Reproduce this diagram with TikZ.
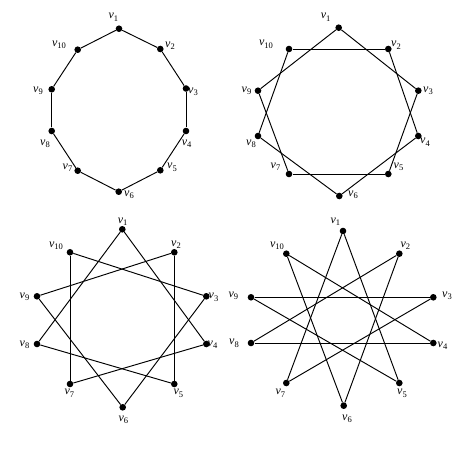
\documentclass[tikz,border=0pt]{standalone}
\usepackage{fontspec}
\setmainfont{Liberation Serif}
\newcommand{\vlab}[1]{\textit{v}\raisebox{-0.4ex}{\fontsize{8.5}{9}\selectfont #1}}
\tikzset{
  dot/.style={circle,fill=black,inner sep=0pt,minimum size=6.6pt},
  lab/.style={inner sep=0pt,font=\fontsize{12}{13}\selectfont},
  edge/.style={line width=0.95pt,black}
}
\begin{document}
\begin{tikzpicture}[x=1pt,y=-1pt]
\useasboundingbox (0,0) rectangle (474,449);
% Panel 1: cycle
\foreach \i/\x/\y/\lx/\ly in {
  1/119/28.7/113.3/17.3, 2/160.3/49/170/46, 3/186/88.5/193/91.7,
  4/186/131/186.7/144, 5/160.3/170.3/172/167.3, 6/118.7/191.7/129/195,
  7/77.7/170.7/67.5/167.7, 8/51.7/131/45/144, 9/51.7/89.3/38/91,
  10/77.7/49.7/59/45}{
  \node[dot] (a\i) at (\x,\y) {};
  \node[lab] (la\i) at (\lx,\ly) {\vlab{\i}};
}
\foreach \i in {1,...,10}{
  \pgfmathtruncatemacro\j{mod(\i,10)+1}
  \draw[edge] (a\i) -- (a\j);
}
% Panel 2: step 2
\foreach \i/\x/\y/\lx/\ly in {
  1/338.7/27.7/325.6/17.3, 2/388.3/49/396/45.3, 3/418.3/90.7/428/91,
  4/418.3/136/425/142.3, 5/388.3/174/398.5/166.7, 6/339.3/196/353/195,
  7/289/174/275.5/166.7, 8/258/136/251/144, 9/258/90.7/246.5/90.7,
  10/289/49/266/44.3}{
  \node[dot] (b\i) at (\x,\y) {};
  \node[lab] (lb\i) at (\lx,\ly) {\vlab{\i}};
}
\foreach \i in {1,...,10}{
  \pgfmathtruncatemacro\j{mod(\i+1,10)+1}
  \draw[edge] (b\i) -- (b\j);
}
% Panel 3: step 3
\foreach \i/\x/\y/\lx/\ly in {
  1/122.3/229.3/122.7/221.7, 2/174.3/252.3/176/245, 3/206.3/296.3/213.5/297.3,
  4/206.3/344/212.5/345, 5/174.3/384/178.3/393.3, 6/122.7/407.3/123.3/420,
  7/70/384/69.3/393.3, 8/37/344/24.5/345, 9/37/296.3/24.5/296.7,
  10/70/252.3/56/246}{
  \node[dot] (c\i) at (\x,\y) {};
  \node[lab] (lc\i) at (\lx,\ly) {\vlab{\i}};
}
\foreach \i in {1,...,10}{
  \pgfmathtruncatemacro\j{mod(\i+2,10)+1}
  \draw[edge] (c\i) -- (c\j);
}
% Panel 4: step 4
\foreach \i/\x/\y/\lx/\ly in {
  1/343/231/335.3/221.7, 2/399.3/253.7/405.3/246, 3/433.3/297.3/447/296,
  4/433.3/343/442.5/346, 5/399.3/383/402/393.3, 6/343.7/405.7/347/419,
  7/286.3/383/280.3/393.3, 8/251/343/234/343.3, 9/251/297.3/233.3/296,
  10/286.3/253.7/277/246}{
  \node[dot] (d\i) at (\x,\y) {};
  \node[lab] (ld\i) at (\lx,\ly) {\vlab{\i}};
}
\foreach \i in {1,...,10}{
  \pgfmathtruncatemacro\j{mod(\i+3,10)+1}
  \draw[edge] (d\i) -- (d\j);
}
\end{tikzpicture}
\end{document}
